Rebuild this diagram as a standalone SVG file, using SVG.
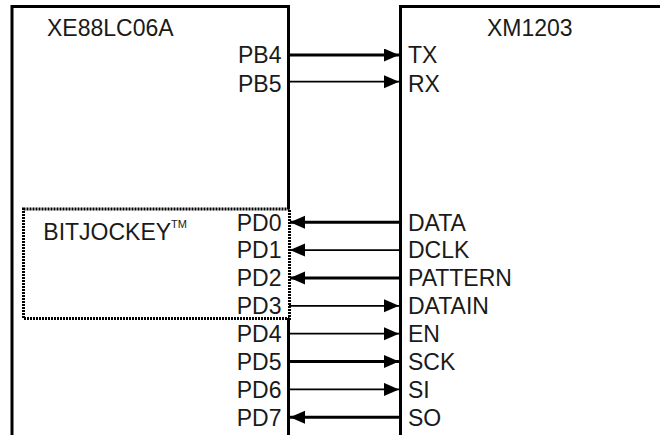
<svg xmlns="http://www.w3.org/2000/svg" width="660" height="435" viewBox="0 0 660 435">
<style>
.t{font-family:"Liberation Sans",Arial,sans-serif;font-size:23px;fill:#1a1a1a}
.e{text-anchor:end}
.box{fill:none;stroke:#000;stroke-width:3}
.thick{stroke:#000;stroke-width:3;fill:none}
.thin{stroke:#000;stroke-width:1.8;fill:none}
</style>
<defs>
<marker id="ah" markerUnits="userSpaceOnUse" markerWidth="16" markerHeight="14" refX="15" refY="6.5" orient="auto">
<path d="M0,0 L15,6.5 L0,13 Z" fill="#000"/>
</marker>
</defs>
<rect width="660" height="435" fill="#fff"/>
<g id="xe88lc06a">
<path class="box" d="M12,440 V6.5 H288.5 V209"/>
<path class="box" d="M288.5,318 V440"/>
<text class="t" x="47" y="36">XE88LC06A</text>
<text class="t e" x="281.5" y="63.3">PB4</text>
<text class="t e" x="281.5" y="91.5">PB5</text>
<text class="t e" x="281.5" y="230.6">PD0</text>
<text class="t e" x="281.5" y="258.4">PD1</text>
<text class="t e" x="281.5" y="286.3">PD2</text>
<text class="t e" x="281.5" y="314.1">PD3</text>
<text class="t e" x="281.5" y="342">PD4</text>
<text class="t e" x="281.5" y="369.8">PD5</text>
<text class="t e" x="281.5" y="397.7">PD6</text>
<text class="t e" x="281.5" y="425.5">PD7</text>
</g>
<g id="bitjockey">
<rect x="23.5" y="209" width="266" height="109.5" fill="none" stroke="#000" stroke-width="3" stroke-dasharray="2,1"/>
<text class="t" x="43.3" y="240">BITJOCKEY<tspan font-size="11" dy="-12">TM</tspan></text>
</g>
<g id="xm1203">
<path class="box" d="M400.5,440 V6.5 H665"/>
<text class="t" x="487" y="36">XM1203</text>
<text class="t" x="408" y="63.3">TX</text>
<text class="t" x="408" y="91.5">RX</text>
<text class="t" x="408" y="230.6">DATA</text>
<text class="t" x="408" y="258.4">DCLK</text>
<text class="t" x="408" y="286.3">PATTERN</text>
<text class="t" x="408" y="314.1">DATAIN</text>
<text class="t" x="408" y="342">EN</text>
<text class="t" x="408" y="369.8">SCK</text>
<text class="t" x="408" y="397.7">SI</text>
<text class="t" x="408" y="425.5">SO</text>
</g>
<g id="connectors">
<line class="thick" x1="289" y1="55" x2="399" y2="55" marker-end="url(#ah)"/>
<line class="thin" x1="289" y1="81.7" x2="399" y2="81.7" marker-end="url(#ah)"/>
<line class="thick" x1="399" y1="222.3" x2="290" y2="222.3" marker-end="url(#ah)"/>
<line class="thin" x1="399" y1="250.1" x2="290" y2="250.1" marker-end="url(#ah)"/>
<line class="thick" x1="399" y1="278" x2="290" y2="278" marker-end="url(#ah)"/>
<line class="thin" x1="289" y1="305.8" x2="399" y2="305.8" marker-end="url(#ah)"/>
<line class="thin" x1="289" y1="333.7" x2="399" y2="333.7" marker-end="url(#ah)"/>
<line class="thick" x1="289" y1="361.5" x2="399" y2="361.5" marker-end="url(#ah)"/>
<line class="thin" x1="289" y1="389.4" x2="399" y2="389.4" marker-end="url(#ah)"/>
<line class="thick" x1="399" y1="417.2" x2="290" y2="417.2" marker-end="url(#ah)"/>
</g>
</svg>
